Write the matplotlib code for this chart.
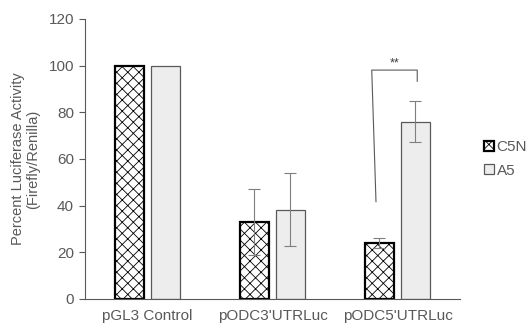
import matplotlib
matplotlib.use("Agg")
import matplotlib.pyplot as plt
import numpy as np

plt.rcParams['font.family'] = ['Liberation Sans', 'DejaVu Sans']
plt.rcParams['hatch.linewidth'] = 0.6
plt.rcParams['hatch.color'] = '#404040'

# data
categories = ["pGL3 Control", "pODC3'UTRLuc", "pODC5'UTRLuc"]
c5n_values = [100, 33, 24]
c5n_err = [0, 14, 2.3]
a5_values = [100, 38.3, 76]
a5_err = [0, 15.6, 8.8]
yticks = [0, 20, 40, 60, 80, 100, 120]

grey = "#595959"

fig = plt.figure(figsize=(5.26, 3.24), dpi=100)
ax = fig.add_axes([0.1616, 0.0772, 0.7129, 0.8642])

x = np.arange(len(categories))
w = 0.232
off = 0.144

ax.bar(x - off, c5n_values, w, facecolor="white", edgecolor="black",
       hatch="xxx", linewidth=1.6, label="C5N", zorder=2)
ax.bar(x + off, a5_values, w, facecolor="#ededed", edgecolor=grey,
       linewidth=0.9, label="A5", zorder=2)

# error bars (skip the control group, which has none)
ax.errorbar(x[1:] - off, c5n_values[1:], yerr=c5n_err[1:], fmt="none",
            ecolor="#7f7f7f", elinewidth=0.8, capsize=4, capthick=0.8, zorder=3)
ax.errorbar(x[1:] + off, a5_values[1:], yerr=a5_err[1:], fmt="none",
            ecolor="#7f7f7f", elinewidth=0.8, capsize=4, capthick=0.8, zorder=3)

# significance bracket
ax.plot([1.828, 1.794, 2.158, 2.158], [41.7, 98.1, 98.1, 93.3],
        color=grey, linewidth=0.8, zorder=3)
ax.text(1.976, 98.3, "**", ha="center", va="bottom", fontsize=9, color="#404040")

ax.set_xlim(-0.5, 2.5)
ax.set_ylim(0, 120)
ax.set_yticks(yticks)
ax.set_xticks(x)
ax.set_xticklabels(categories)
ax.tick_params(axis="x", length=0, pad=7, labelsize=11, colors=grey)
ax.tick_params(axis="y", length=4, width=0.8, pad=4, labelsize=11,
               colors=grey, direction="out")

for s in ["top", "right"]:
    ax.spines[s].set_visible(False)
for s in ["left", "bottom"]:
    ax.spines[s].set_color(grey)
    ax.spines[s].set_linewidth(0.8)

ax.set_ylabel("Percent Luciferase Activity\n(Firefly/Renilla)", fontsize=10.5,
              color=grey, labelpad=6, linespacing=1.1)

leg = ax.legend(loc="center left", bbox_to_anchor=(1.0, 0.5), frameon=False,
                handlelength=0.6, handleheight=0.6, handletextpad=0.2,
                labelspacing=0.6, fontsize=11, borderaxespad=1.2)
for t in leg.get_texts():
    t.set_color(grey)

fig.savefig("out.png", dpi=100)
